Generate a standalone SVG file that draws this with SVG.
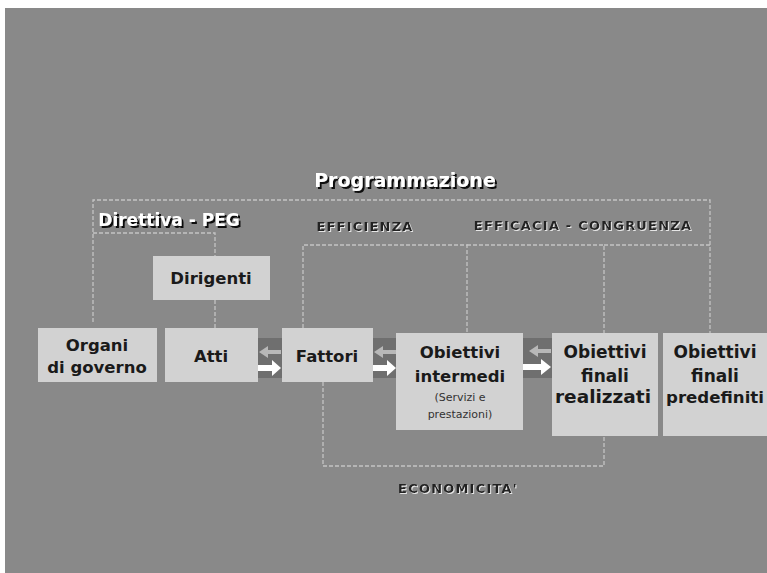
<svg xmlns="http://www.w3.org/2000/svg" width="767" height="573" viewBox="0 0 767 573">
<defs>
<filter id="dark" x="-10%" y="-30%" width="120%" height="160%">
<feDropShadow dx="2" dy="2" stdDeviation="0.4" flood-color="#111" flood-opacity="1"/>
</filter>
<filter id="light" x="-10%" y="-30%" width="120%" height="160%">
<feDropShadow dx="1" dy="1" stdDeviation="0.3" flood-color="#e6e6e6" flood-opacity="1"/>
</filter>
</defs>
<style>
.bg{fill:#898989}
.box{fill:#d2d2d2}
.gap{fill:#6f6f6f}
.ln{stroke:#c4c4c4;stroke-width:1.3;fill:none;stroke-dasharray:4 2}
.lbl{font-family:"DejaVu Sans",Verdana,sans-serif;font-weight:bold;fill:#1a1a1a;text-anchor:middle}
.sm{font-family:"DejaVu Sans",Verdana,sans-serif;font-size:11px;fill:#333;text-anchor:middle}
.title{font-family:"DejaVu Sans",Verdana,sans-serif;font-weight:bold;fill:#fff;text-anchor:middle;filter:url(#dark)}
.emb{font-family:"DejaVu Sans",Verdana,sans-serif;font-size:13px;letter-spacing:1.2px;fill:#222;text-anchor:middle;filter:url(#light)}
.wa{fill:#ffffff}
.ga{fill:#b8b8b8}
</style>
<rect x="0" y="0" width="767" height="573" fill="#ffffff"/>
<rect class="bg" x="5" y="8" width="762" height="565"/>

<g id="connectors">
<path class="ln" d="M93,322 V200 H710 V333"/>
<path class="ln" d="M93,233 H215 V256"/>
<path class="ln" d="M215,300 V328"/>
<path class="ln" d="M303,328 V245 H467 V333"/>
<path class="ln" d="M467,245 H604 V333"/>
<path class="ln" d="M604,245 H710"/>
<path class="ln" d="M323,382 V466 H604 V436"/>
<rect class="gap" x="258" y="338" width="24" height="40"/>
<rect class="gap" x="373" y="338" width="23" height="40"/>
<rect class="gap" x="523" y="338" width="29" height="40"/>
<path class="ga" d="M281,350 H268 V346 L259,352 L268,358 V354 H281 Z"/>
<path class="wa" d="M258,365 H272 V360 L281,368 L272,376 V371 H258 Z"/>
<path class="ga" d="M396,350 H383 V346 L374,352 L383,358 V354 H396 Z"/>
<path class="wa" d="M373,365 H387 V360 L396,368 L387,376 V371 H373 Z"/>
<path class="ga" d="M551,349 H538 V345 L529,351 L538,357 V353 H551 Z"/>
<path class="wa" d="M523,364 H541 V359 L551,367 L541,375 V370 H523 Z"/>
</g>

<g id="title">
<text class="title" x="405" y="187" font-size="19">Programmazione</text>
</g>
<g id="direttiva">
<text class="title" x="169" y="226" font-size="17">Direttiva - PEG</text>
</g>
<g id="efficienza">
<text class="emb" x="365" y="231" font-weight="bold">EFFICIENZA</text>
</g>
<g id="efficacia">
<text class="emb" x="583" y="230" font-weight="bold">EFFICACIA - CONGRUENZA</text>
</g>
<g id="economicita">
<text class="emb" x="458" y="493" font-weight="bold">ECONOMICITA'</text>
</g>

<g id="dirigenti">
<rect class="box" x="153" y="256" width="117" height="44"/>
<text class="lbl" x="211" y="284" font-size="16.5">Dirigenti</text>
</g>
<g id="organi">
<rect class="box" x="38" y="328" width="119" height="54"/>
<text class="lbl" x="97" y="351" font-size="16.5">Organi</text>
<text class="lbl" x="97" y="373" font-size="16.5">di governo</text>
</g>
<g id="atti">
<rect class="box" x="165" y="328" width="93" height="54"/>
<text class="lbl" x="211" y="362" font-size="16.5">Atti</text>
</g>
<g id="fattori">
<rect class="box" x="282" y="328" width="91" height="54"/>
<text class="lbl" x="327" y="362" font-size="16.5">Fattori</text>
</g>
<g id="obiettivi-intermedi">
<rect class="box" x="396" y="333" width="127" height="97"/>
<text class="lbl" x="460" y="358" font-size="16.5">Obiettivi</text>
<text class="lbl" x="460" y="382" font-size="16.5">intermedi</text>
<text class="sm" x="460" y="401">(Servizi e</text>
<text class="sm" x="460" y="418">prestazioni)</text>
</g>
<g id="obiettivi-finali-realizzati">
<rect class="box" x="552" y="333" width="106" height="103"/>
<text class="lbl" x="605" y="358" font-size="17">Obiettivi</text>
<text class="lbl" x="605" y="382" font-size="17">finali</text>
<text class="lbl" x="603" y="403" font-size="17" textLength="96" lengthAdjust="spacingAndGlyphs">realizzati</text>
</g>
<g id="obiettivi-finali-predefiniti">
<rect class="box" x="663" y="333" width="104" height="103"/>
<text class="lbl" x="715" y="358" font-size="17">Obiettivi</text>
<text class="lbl" x="715" y="382" font-size="17">finali</text>
<text class="lbl" x="715" y="403" font-size="16.5" textLength="98" lengthAdjust="spacingAndGlyphs">predefiniti</text>
</g>
</svg>
